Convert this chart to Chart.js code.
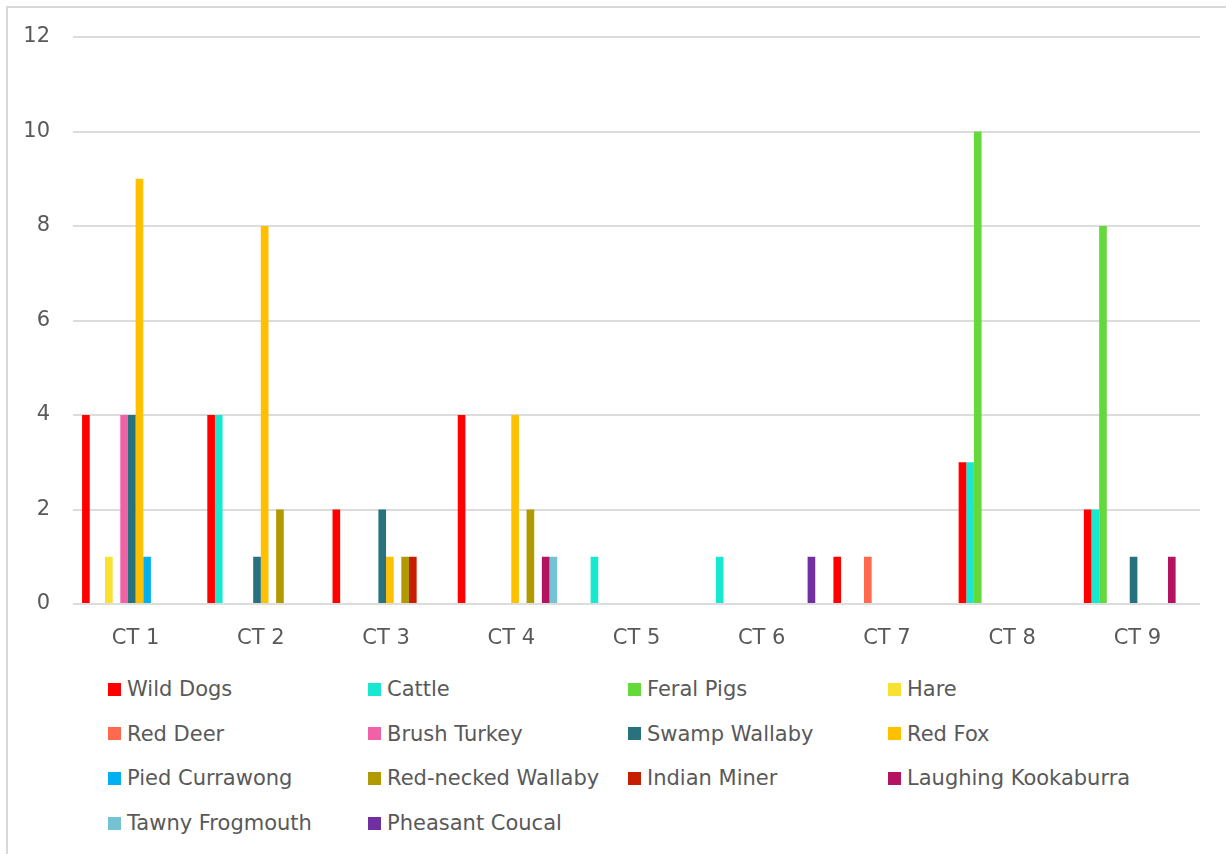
<!DOCTYPE html>
<html>
<head>
<meta charset="utf-8">
<script src="https://cdn.jsdelivr.net/npm/chart.js@4"></script>
<style>
    html, body { margin: 0; padding: 0; background: #fff; }
    body { width: 1226px; height: 854px; position: relative; overflow: hidden; font-family: "DejaVu Sans", Verdana, sans-serif; }
    .frame { position: absolute; left: 6px; top: 6px; width: 1240px; height: 870px; border-top: 2px solid #d9d9d9; border-left: 2px solid #d9d9d9; }
    #wrap { position: absolute; left: 0; top: 0; width: 1226px; height: 665px; }
    #legend { position: absolute; left: 108px; top: 676px; display: grid; grid-template-columns: repeat(4, 260px); grid-auto-rows: 44.7px; }
    .item { display: flex; align-items: center; height: 26px; color: #595959; font-size: 21px; white-space: nowrap; }
    .box { width: 13px; height: 13px; margin-right: 6px; flex: none; }
</style>
</head>
<body>
<div class="frame"></div>
<div id="wrap"><canvas id="chart"></canvas></div>
<div id="legend"></div>
<script>
    // Data
    const categories = ['CT 1', 'CT 2', 'CT 3', 'CT 4', 'CT 5', 'CT 6', 'CT 7', 'CT 8', 'CT 9'];
    const yTicks = [0, 2, 4, 6, 8, 10, 12];

    const wildDogs          = [4, 4, 2, 4, 0, 0, 1, 3, 2];
    const cattle            = [0, 4, 0, 0, 1, 1, 0, 3, 2];
    const feralPigs         = [0, 0, 0, 0, 0, 0, 0, 10, 8];
    const hare              = [1, 0, 0, 0, 0, 0, 0, 0, 0];
    const redDeer           = [0, 0, 0, 0, 0, 0, 1, 0, 0];
    const brushTurkey       = [4, 0, 0, 0, 0, 0, 0, 0, 0];
    const swampWallaby      = [4, 1, 2, 0, 0, 0, 0, 0, 1];
    const redFox            = [9, 8, 1, 4, 0, 0, 0, 0, 0];
    const piedCurrawong     = [1, 0, 0, 0, 0, 0, 0, 0, 0];
    const redNeckedWallaby  = [0, 2, 1, 2, 0, 0, 0, 0, 0];
    const indianMiner       = [0, 0, 1, 0, 0, 0, 0, 0, 0];
    const laughingKookaburra = [0, 0, 0, 1, 0, 0, 0, 0, 1];
    const tawnyFrogmouth    = [0, 0, 0, 1, 0, 0, 0, 0, 0];
    const pheasantCoucal    = [0, 0, 0, 0, 0, 1, 0, 0, 0];

    const seriesNames = ['Wild Dogs', 'Cattle', 'Feral Pigs', 'Hare', 'Red Deer', 'Brush Turkey', 'Swamp Wallaby',
        'Red Fox', 'Pied Currawong', 'Red-necked Wallaby', 'Indian Miner', 'Laughing Kookaburra', 'Tawny Frogmouth', 'Pheasant Coucal'];
    const seriesValues = [wildDogs, cattle, feralPigs, hare, redDeer, brushTurkey, swampWallaby,
        redFox, piedCurrawong, redNeckedWallaby, indianMiner, laughingKookaburra, tawnyFrogmouth, pheasantCoucal];
    const seriesColors = ['#FF0000', '#19E8D0', '#64D93A', '#F8E131', '#FF6A4F', '#F061A6', '#287280',
        '#FFC000', '#00B0F0', '#B09A00', '#C81E00', '#B4135F', '#73C3D2', '#7030A0'];

    const textColor = '#595959';
    const font = { family: '"DejaVu Sans", Verdana, sans-serif', size: 21 };

    const datasets = seriesNames.map((name, i) => ({
        label: name,
        data: seriesValues[i],
        backgroundColor: seriesColors[i],
        borderWidth: 0,
        categoryPercentage: 0.855,
        barPercentage: 1
    }));

    const chart = new Chart(document.getElementById('chart'), {
        type: 'bar',
        data: { labels: categories, datasets },
        options: {
            responsive: true,
            maintainAspectRatio: false,
            animation: false,
            layout: { padding: { left: 0, right: 26, top: 37, bottom: 0 } },
            plugins: {
                legend: { display: false },
                tooltip: { enabled: false }
            },
            scales: {
                x: {
                    grid: { display: false },
                    border: { display: false },
                    ticks: { color: textColor, font, padding: 14, maxRotation: 0 },
                    afterFit: s => { s.height = 61; }
                },
                y: {
                    min: 0,
                    max: 12,
                    afterBuildTicks: s => { s.ticks = yTicks.map(v => ({ value: v })); },
                    grid: { color: '#dcdcdc', lineWidth: 2, drawTicks: false },
                    border: { display: false },
                    ticks: { color: textColor, font, padding: 23 },
                    afterFit: s => { s.width = 73; }
                }
            }
        }
    });

    // Legend (4 columns, like the original)
    const legend = document.getElementById('legend');
    chart.data.datasets.forEach(ds => {
        const item = document.createElement('div');
        item.className = 'item';
        item.innerHTML = `<span class="box" style="background:${ds.backgroundColor}"></span><span>${ds.label}</span>`;
        legend.appendChild(item);
    });
</script>
</body>
</html>
